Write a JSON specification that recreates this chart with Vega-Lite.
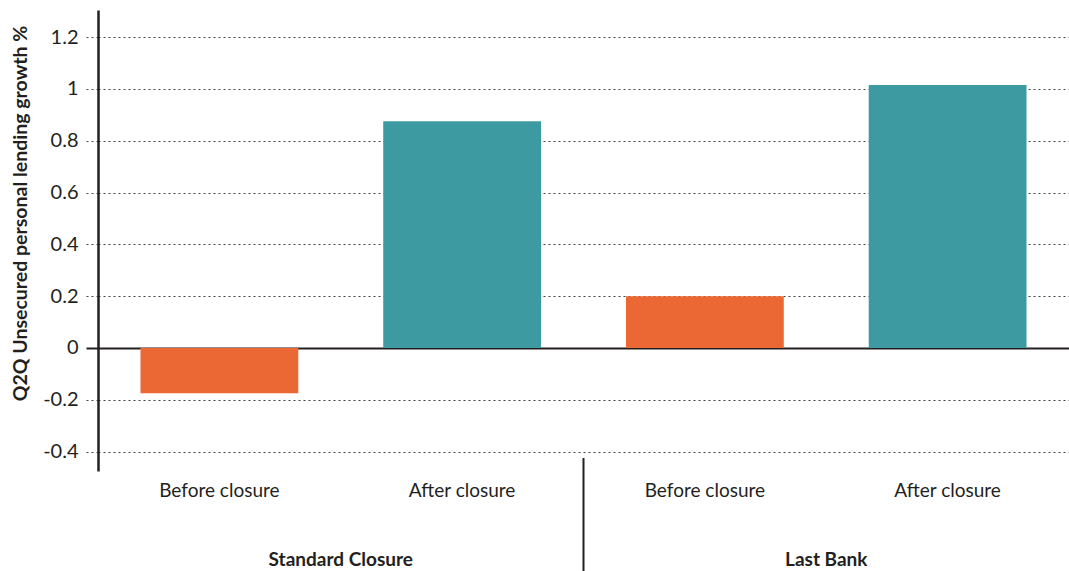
{
  "$schema": "https://vega.github.io/schema/vega-lite/v6.json",
  "width": 971,
  "height": 461,
  "autosize": {"type": "none"},
  "padding": {"left": 98, "top": 10, "right": 0, "bottom": 100},
  "background": "white",
  "config": {"view": {"stroke": null}, "font": "Lato"},
  "datasets": {
    "bars": [
      {"group": "Standard Closure", "period": "Before closure", "key": "Standard Closure|Before closure", "value": -0.175},
      {"group": "Standard Closure", "period": "After closure", "key": "Standard Closure|After closure", "value": 0.875},
      {"group": "Last Bank", "period": "Before closure", "key": "Last Bank|Before closure", "value": 0.2},
      {"group": "Last Bank", "period": "After closure", "key": "Last Bank|After closure", "value": 1.015}
    ],
    "groups": [
      {"group": "Standard Closure", "key": "Standard Closure|After closure"},
      {"group": "Last Bank", "key": "Last Bank|After closure"}
    ],
    "divider": [
      {"key": "Last Bank|Before closure"}
    ]
  },
  "layer": [
    {
      "data": {"name": "bars"},
      "mark": {"type": "bar", "width": {"band": 0.65}},
      "encoding": {
        "x": {
          "field": "key",
          "type": "nominal",
          "sort": null,
          "scale": {
            "domain": ["Standard Closure|Before closure", "Standard Closure|After closure", "Last Bank|Before closure", "Last Bank|After closure"],
            "paddingInner": 0,
            "paddingOuter": 0
          },
          "axis": {
            "title": null,
            "domain": false,
            "ticks": false,
            "grid": false,
            "labelAngle": 0,
            "labelExpr": "split(datum.value, '|')[1]",
            "labelFont": "Lato",
            "labelFontSize": 19,
            "labelColor": "#231f20",
            "labelPadding": 10
          }
        },
        "y": {
          "field": "value",
          "type": "quantitative",
          "scale": {"domain": [-0.475, 1.305], "nice": false, "zero": false},
          "axis": {
            "title": "Q2Q Unsecured personal lending growth %",
            "titleFont": "Lato",
            "titleFontSize": 19.5,
            "titleFontWeight": "bold",
            "titleColor": "#231f20",
            "titleAngle": -90,
            "titleX": -78,
            "titleY": 203,
            "titleAlign": "center",
            "titleBaseline": "middle",
            "values": [-0.4, -0.2, 0, 0.2, 0.4, 0.6, 0.8, 1, 1.2],
            "labelExpr": "replace(format(datum.value, '~g'), '−', '-')",
            "labelFont": "Lato",
            "labelFontSize": 20,
            "labelColor": "#231f20",
            "labelPadding": 8,
            "domainColor": "#231f20",
            "domainWidth": 2.5,
            "ticks": true,
            "tickSize": 12,
            "tickColor": {"condition": {"test": "datum.value === 0", "value": "#231f20"}, "value": "#444444"},
            "tickDash": {"condition": {"test": "datum.value === 0", "value": []}, "value": [2, 3]},
            "tickWidth": {"condition": {"test": "datum.value === 0", "value": 2}, "value": 1},
            "grid": true,
            "gridColor": {"condition": {"test": "datum.value === 0", "value": "#231f20"}, "value": "#444444"},
            "gridDash": {"condition": {"test": "datum.value === 0", "value": []}, "value": [2, 3]},
            "gridWidth": {"condition": {"test": "datum.value === 0", "value": 2}, "value": 1},
            "gridOpacity": 1
          }
        },
        "color": {
          "field": "period",
          "type": "nominal",
          "scale": {"domain": ["Before closure", "After closure"], "range": ["#EB6734", "#3D9AA0"]},
          "legend": null
        }
      }
    },
    {
      "data": {"name": "groups"},
      "mark": {"type": "text", "font": "Lato", "fontWeight": "bold", "fontSize": 19, "color": "#231f20", "dy": 89, "baseline": "middle", "align": "center"},
      "encoding": {
        "x": {"field": "key", "type": "nominal", "bandPosition": 0},
        "y": {"datum": -0.475, "type": "quantitative"},
        "text": {"field": "group", "type": "nominal"}
      }
    },
    {
      "data": {"name": "divider"},
      "mark": {"type": "rule", "color": "#231f20", "strokeWidth": 2},
      "encoding": {
        "x": {"field": "key", "type": "nominal", "bandPosition": 0},
        "y": {"datum": -0.425, "type": "quantitative"},
        "y2": {"datum": -0.9}
      }
    }
  ]
}
